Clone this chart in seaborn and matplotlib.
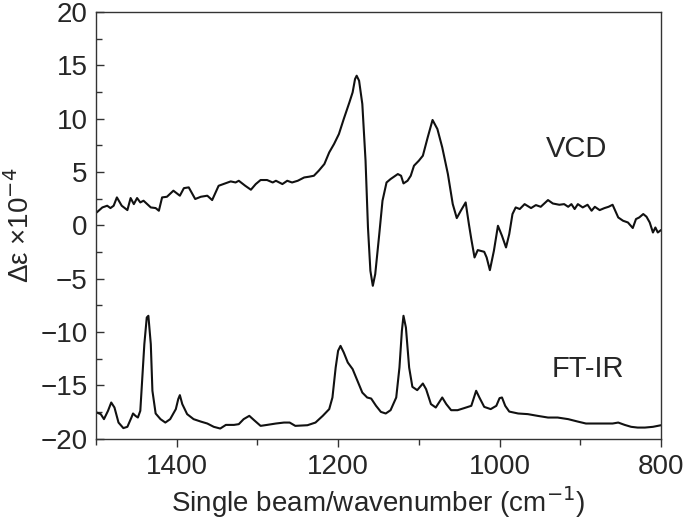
import numpy as np
import pandas as pd
import matplotlib
matplotlib.use("Agg")
import matplotlib.pyplot as plt
import seaborn as sns
from matplotlib.ticker import MultipleLocator

# --- data (wavenumber cm-1, delta eps x1e-4) ---
vcd_wn = [1499, 1492, 1486, 1482, 1478, 1474, 1468, 1461, 1457, 1453, 1449, 1445, 1441,
          1432, 1426, 1422, 1418, 1412, 1404, 1396, 1391, 1385, 1377, 1370, 1362, 1356,
          1348, 1342, 1333, 1327, 1323, 1315, 1308, 1302, 1296, 1288, 1281, 1277, 1269,
          1263, 1257, 1250, 1242, 1236, 1230, 1224, 1217, 1211, 1205, 1199, 1193, 1186,
          1182, 1179, 1177, 1174, 1170, 1166, 1163, 1160, 1157, 1154, 1149, 1145, 1140,
          1135, 1126, 1122, 1119, 1114, 1110, 1106, 1100, 1095, 1089, 1083, 1077, 1071,
          1064, 1058, 1053, 1048, 1042, 1038, 1035, 1031, 1027, 1019, 1016, 1012, 1007,
          1002, 997, 992, 988, 984, 980, 975, 969, 961, 955, 949, 940, 934, 926, 920,
          915, 911, 907, 903, 897, 891, 886, 882, 876, 870, 865, 860, 853, 847, 841,
          835, 831, 827, 822, 818, 814, 810, 807, 804, 800]
vcd_val = [1.22, 1.69, 1.85, 1.63, 1.85, 2.63, 1.85, 1.44, 2.57, 2.0, 2.57, 2.16, 2.32,
           1.69, 1.63, 1.38, 2.63, 2.69, 3.26, 2.79, 3.5, 3.57, 2.48, 2.69, 2.79, 2.38,
           3.72, 3.88, 4.13, 4.03, 4.19, 3.72, 3.35, 3.88, 4.26, 4.26, 4.03, 4.19, 3.88,
           4.19, 4.03, 4.19, 4.5, 4.57, 4.66, 5.13, 5.76, 6.85, 7.64, 8.57, 9.98, 11.54,
           12.48, 13.73, 14.04, 13.57, 11.39, 6.07, -0.19, -4.25, -5.66, -4.56, -0.81, 2.32, 4.03,
           4.35, 4.82, 4.66, 3.94, 4.19, 4.66, 5.6, 6.07, 6.54, 8.26, 9.89, 9.04, 7.32,
           4.82, 2.01, 0.69, 1.38, 2.16, 0.13, -1.28, -3.0, -2.31, -2.47, -3.0, -4.19, -2.37,
           -0.03, -0.97, -2.06, -0.81, 1.07, 1.69, 1.54, 2.0, 1.63, 1.91, 1.75, 2.38, 2.06, 1.94, 2.0,
           1.75, 2.0, 1.54, 2.0, 1.69, 1.94, 1.38, 1.75, 1.44, 1.63, 1.75, 1.94, 0.75, 0.44, 0.28,
           -0.24, 0.6, 0.75, 1.07, 0.82, 0.28, -0.66, -0.19, -0.66, -0.43]

ir_wn = [1499, 1494, 1490, 1485, 1481, 1477, 1472, 1466, 1461, 1456, 1454, 1451, 1448,
         1445, 1443, 1440, 1437, 1435, 1432, 1430, 1426, 1420, 1414, 1408, 1401, 1398,
         1396, 1393, 1387, 1379, 1370, 1362, 1354, 1346, 1339, 1329, 1323, 1317, 1310,
         1304, 1296, 1288, 1277, 1267, 1260, 1253, 1238, 1228, 1219, 1211, 1207, 1203,
         1200, 1197, 1193, 1188, 1182, 1176, 1170, 1164, 1159, 1153, 1147, 1141, 1135,
         1128, 1124, 1121, 1119, 1116, 1112, 1108, 1102, 1095, 1091, 1085, 1079, 1075,
         1071, 1066, 1060, 1052, 1044, 1035, 1029, 1025, 1019, 1011, 1004, 1000, 997,
         993, 988, 977, 965, 953, 940, 928, 915, 903, 893, 882, 870, 860, 853, 845,
         837, 829, 820, 810, 800]
ir_val = [-17.54, -17.69, -18.16, -17.38, -16.6, -17.07, -18.48, -19.0, -18.88, -18.01, -17.63, -17.85, -18.01,
          -17.38, -14.88, -11.13, -8.63, -8.47, -11.13, -15.5, -17.63, -18.16, -18.48, -18.16, -17.22, -16.28,
          -15.91, -16.75, -17.69, -18.16, -18.39, -18.57, -18.88, -19.04, -18.7, -18.7, -18.63, -18.16, -17.85,
          -18.26, -18.79, -18.7, -18.57, -18.48, -18.48, -18.79, -18.73, -18.48, -17.85, -17.22, -16.13, -13.32,
          -11.75, -11.29, -11.91, -12.85, -13.47, -14.57, -15.67, -16.13, -16.23, -16.91, -17.48, -17.63, -17.32,
          -16.13, -13.32, -9.88, -8.47, -9.57, -13.32, -15.13, -15.44, -14.82, -15.35, -16.75, -17.07, -16.6,
          -16.13, -16.75, -17.32, -17.32, -17.13, -16.91, -15.5, -16.13, -17.01, -17.22, -16.91, -16.19, -16.13,
          -16.91, -17.45, -17.63, -17.69, -17.85, -18.01, -18.01, -18.16, -18.39, -18.57, -18.57, -18.57, -18.57, -18.48, -18.7,
          -18.88, -18.95, -18.95, -18.88, -18.73]

vcd = pd.DataFrame({"wn": vcd_wn, "val": vcd_val})
ir = pd.DataFrame({"wn": ir_wn, "val": ir_val})

sns.set_style("ticks")
plt.rcParams["font.family"] = ["Liberation Sans", "DejaVu Sans"]

fig = plt.figure(figsize=(6.85, 5.28), dpi=100)
ax = fig.add_axes([0.140, 0.169, 0.825, 0.808])

sns.lineplot(data=vcd, x="wn", y="val", color="#111111", lw=1.5, ax=ax)
sns.lineplot(data=ir, x="wn", y="val", color="#111111", lw=1.5, ax=ax)

ax.set_xlim(1500, 800)
ax.set_ylim(-20, 20)
ax.set_xticks([1400, 1200, 1000, 800])
ax.xaxis.set_minor_locator(MultipleLocator(100))
ax.set_yticks(range(-20, 21, 5))
ax.yaxis.set_minor_locator(MultipleLocator(2.5))
ax.tick_params(axis="x", which="both", direction="out", labelsize=20, width=1, color="#333333", pad=5)
ax.tick_params(axis="x", which="major", length=6)
ax.tick_params(axis="x", which="minor", length=4)
ax.tick_params(axis="y", which="both", direction="in", labelsize=20, width=1, color="#333333", pad=6)
ax.tick_params(axis="y", which="major", length=6)
ax.tick_params(axis="y", which="minor", length=4)
ax.set_yticklabels(["\u221220", "\u221215", "\u221210", "\u22125", "0", "5", "10", "15", "20"])

for sp in ax.spines.values():
    sp.set_visible(True)
    sp.set_linewidth(1.0)
    sp.set_color("#333333")

ax.set_xlabel("Single beam/wavenumber (cm$^{\u22121}$)", fontsize=20, labelpad=3)
ax.set_ylabel("\u0394\u03b5 \u00d710$^{\u22124}$", fontsize=20, labelpad=4)

ax.text(905, 7.2, "VCD", fontsize=21, ha="center", va="center")
ax.text(891, -13.45, "FT-IR", fontsize=21, ha="center", va="center")

plt.savefig("out.png", dpi=100)
plt.close()
